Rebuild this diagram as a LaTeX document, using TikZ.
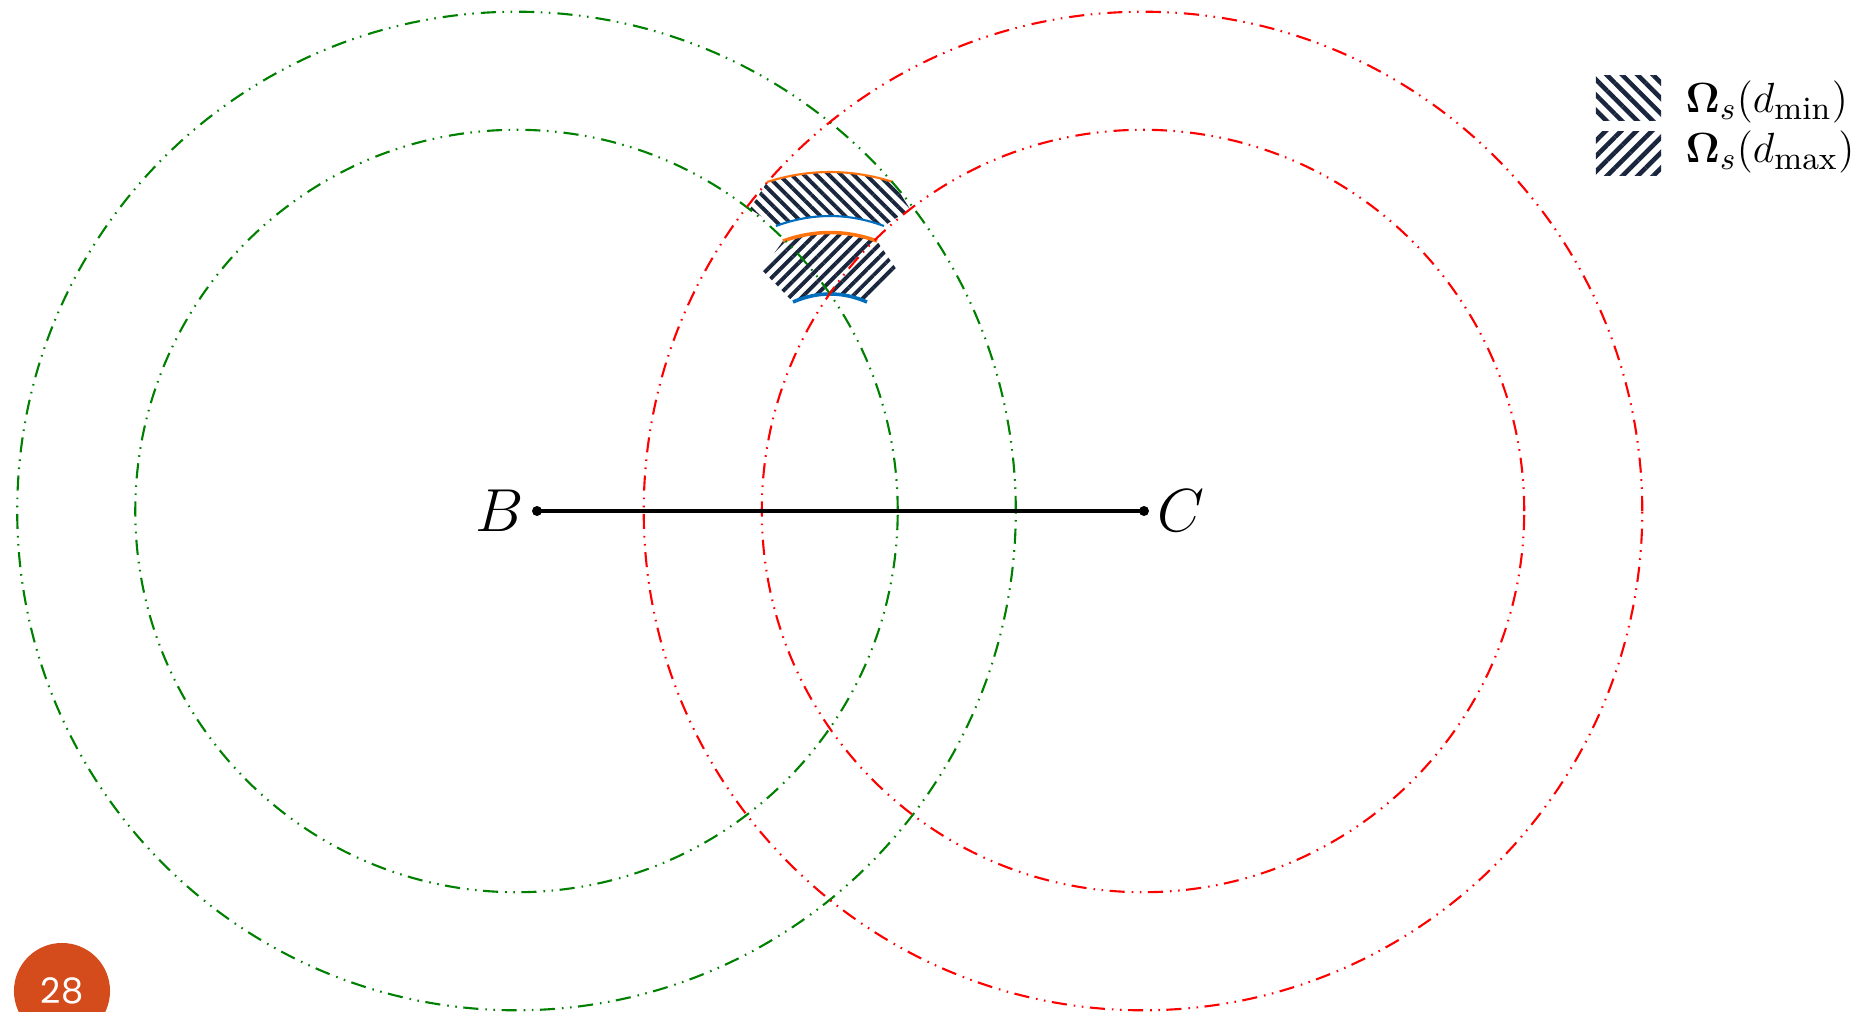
\documentclass[tikz,border=0pt]{standalone}
\usepackage{amsmath,amssymb}
\usepackage{fontspec}
\usetikzlibrary{patterns.meta}
\newfontfamily\slidefont{Poppins}
\definecolor{gcol}{RGB}{0,128,0}
\definecolor{rcol}{RGB}{255,0,0}
\definecolor{hatchnavy}{RGB}{26,38,62}
\definecolor{arcorange}{RGB}{255,115,15}
\definecolor{arcblue}{RGB}{0,110,190}
\definecolor{badge}{RGB}{213,76,28}
\begin{document}
\begin{tikzpicture}[x=0.01cm,y=-0.01cm,
  circ/.style={line width=0.6pt,
    dash pattern=on 4.3pt off 2pt on 0.45pt off 1.85pt on 0.45pt off 1.85pt},
  gcirc/.style={circ,draw=gcol},
  rcirc/.style={circ,draw=rcol},
  hatchmin/.style={pattern={Lines[angle=-45,distance=2.5pt,line width=1.1pt]},pattern color=hatchnavy},
  hatchmax/.style={pattern={Lines[angle=45,distance=2.5pt,line width=1.1pt]},pattern color=hatchnavy},
  leghatchmin/.style={pattern={Lines[angle=-45,distance=3.1pt,line width=1.3pt]},pattern color=hatchnavy},
  leghatchmax/.style={pattern={Lines[angle=45,distance=3.1pt,line width=1.3pt]},pattern color=hatchnavy},
  thinarc/.style={line width=0.6pt},
  thickarc/.style={line width=1pt},
  dotnode/.style={circle,fill=black,inner sep=0pt,minimum size=0.1cm},
  ptlabel/.style={inner sep=0pt,font=\fontsize{17.28}{20}\selectfont},
  legsq/.style={draw=none,inner sep=0pt,minimum width=0.65cm,minimum height=0.44cm},
  legtext/.style={anchor=base west,inner sep=0pt,font=\fontsize{13.2}{15}\selectfont},
  badgenode/.style={circle,fill=badge,inner sep=0pt,minimum size=0.96cm,text=white,
    font=\slidefont\fontsize{10}{10}\selectfont}
]
\useasboundingbox (0,0) rectangle (1872,1012);
\fill[white] (0,0) rectangle (1872,1012);

% hatched regions
\fill[hatchmin] (767,182) .. controls (809,168.7) and (851,168.7) .. (893,182)
  -- (910,209) -- (884,226) .. controls (848,212.7) and (812,212.7) .. (776,226)
  -- (750,209) -- cycle;
\fill[hatchmax] (783,241) .. controls (814.3,229.7) and (845.7,229.7) .. (877,241)
  -- (897,270) -- (867,302) .. controls (842.3,291.3) and (817.7,291.3) .. (793,302)
  -- (762,270) -- cycle;

% bounding arcs
\draw[thinarc,arcorange] (767,182) .. controls (809,168.7) and (851,168.7) .. (893,182);
\draw[thinarc,arcblue] (776,226) .. controls (812,212.7) and (848,212.7) .. (884,226);
\draw[thickarc,arcorange] (783,241) .. controls (814.3,229.7) and (845.7,229.7) .. (877,241);
\draw[thickarc,arcblue] (793,302) .. controls (817.7,291.3) and (842.3,291.3) .. (867,302);

% circles
\coordinate (Bc) at (516.5,511);
\coordinate (Cc) at (1143,511);
\draw[gcirc] (Bc) circle[radius=4.99cm];
\draw[gcirc] (Bc) circle[radius=3.81cm];
\draw[rcirc] (Cc) circle[radius=4.99cm];
\draw[rcirc] (Cc) circle[radius=3.81cm];

% segment BC
\node[dotnode] (Bd) at (537,511) {};
\node[dotnode] (Cd) at (1144,511) {};
\draw[line width=0.95pt] (Bd.center) -- (Cd.center);
\node[ptlabel] (Bl) at (500,511) {$B$};
\node[ptlabel] (Cl) at (1181,511) {$C$};

% legend
\node[legsq,leghatchmin] (L1) at (1628.5,98) {};
\node[legsq,leghatchmax] (L2) at (1628.5,153.5) {};
\node[legtext] (T1) at (1685,113) {$\boldsymbol{\Omega}_s(d_{\min})$};
\node[legtext] (T2) at (1685,162.7) {$\boldsymbol{\Omega}_s(d_{\max})$};

% page badge
\node[badgenode] (pg) at (62,991) {28};
\end{tikzpicture}
\end{document}
